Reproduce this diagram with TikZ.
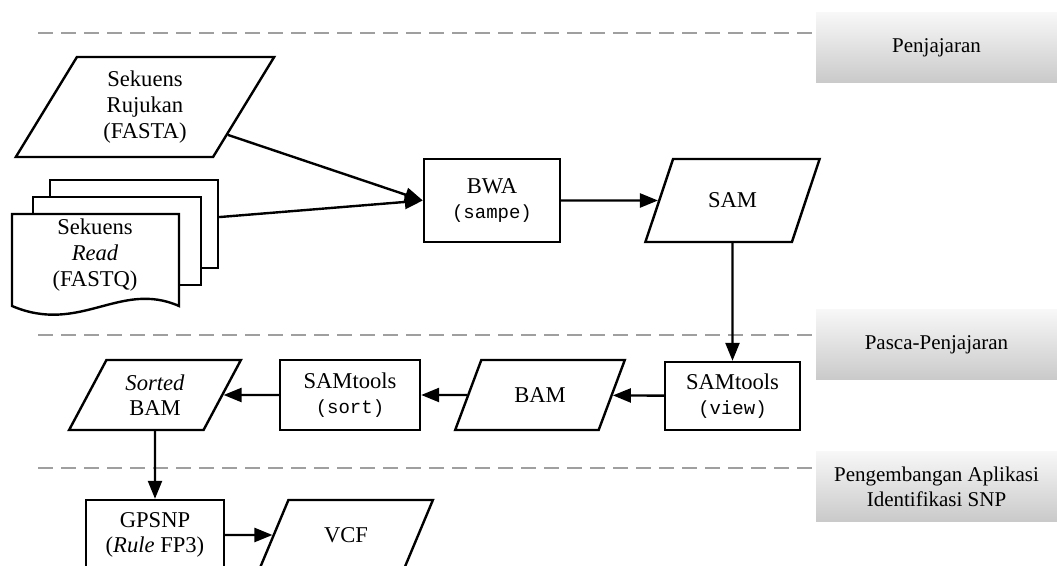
\documentclass[tikz,border=0pt]{standalone}
\usepackage{fontspec}
\setmainfont{Liberation Serif}
\setmonofont{Liberation Mono}
\usetikzlibrary{arrows.meta,positioning,shapes.geometric}

\newcommand{\prog}[1]{{\ttfamily\fontsize{9.5}{12.8}\selectfont #1}}

\tikzset{
  process/.style={rectangle,draw,line width=1.2pt,fill=white,align=center,minimum width=68pt,minimum height=35pt},
  data/.style={trapezium,trapezium left angle=63,trapezium right angle=117,trapezium stretches=true,
    draw,line width=1.2pt,fill=white,align=center,minimum width=86pt,minimum height=35pt},
  sheet/.style={rectangle,draw,line width=1.2pt,fill=white,minimum width=84pt,minimum height=44pt},
  phase/.style={rectangle,top color=gray!6,bottom color=gray!42,align=center,
    minimum width=120.5pt,minimum height=35pt,font=\fontsize{10.5}{12.5}\selectfont},
  divider/.style={gray!75,line width=1pt,dash pattern=on 7.5pt off 4pt},
}

\begin{document}
\begin{tikzpicture}[x=0.5pt,y=-0.5pt,>={Triangle[length=9pt,width=7pt]},
  font=\fontsize{11.3}{12.8}\selectfont]
\useasboundingbox (0,0) rectangle (1057,566);

% phases
\node[phase] (lab1) at (936.5,48) {Penjajaran};
\node[phase] (lab2) at (936.5,345) {Pasca-Penjajaran};
\node[phase] (lab3) at (936.5,486.5) {Pengembangan Aplikasi\\Identifikasi SNP};

\coordinate (d1) at (38,33);
\coordinate (d2) at (38,335);
\coordinate (d3) at (38,468);
\draw[divider] (d1) -- (d1 -| lab1.west);
\draw[divider] (d2) -- (d2 -| lab2.west);
\draw[divider] (d3) -- (d3 -| lab3.west);

% alignment
\node[data,minimum width=129.5pt,minimum height=50pt] (rujukan) at (145,107) {Sekuens\\Rujukan\\(FASTA)};

\node[sheet] (readsB) at (134,224) {};
\node[sheet] (readsM) at (117,241) {};
\draw[line width=1.2pt,fill=white] (12,214) -- (179,214) -- (179,306)
  .. controls (120,280) and (80,335) .. (12,306) -- cycle;
\node[align=center] (reads) at (95,255) {Sekuens\\\textit{Read}\\(FASTQ)};

\node[process,minimum height=41.5pt] (bwa) at (492,200.5) {BWA\\\prog{(sampe)}};
\node[data,minimum width=87.5pt,minimum height=41.5pt] (sam) at (732.5,200.5) {SAM};

% post-alignment
\node[process,minimum width=67.5pt,minimum height=34pt] (view) at (732.5,396) {SAMtools\\\prog{(view)}};
\node[data,minimum width=85pt] (bam) at (540,395) {BAM};
\node[process,minimum width=70pt] (sort) at (350,395) {SAMtools\\\prog{(sort)}};
\node[data] (sorted) at (155,395) {\textit{Sorted}\\BAM};

% application
\node[process,minimum width=69pt] (gpsnp) at (155,535) {GPSNP\\(\textit{Rule} FP3)};
\node[data,minimum width=87pt] (vcf) at (346,535) {VCF};

\path[->,line width=1.2pt]
(rujukan) edge (bwa.west)
(readsB) edge (bwa.west)
(bwa) edge (sam)
(sam) edge (view)
(view) edge (bam)
(bam) edge (sort)
(sort) edge (sorted)
(sorted) edge (gpsnp)
(gpsnp) edge (vcf);
\end{tikzpicture}
\end{document}
